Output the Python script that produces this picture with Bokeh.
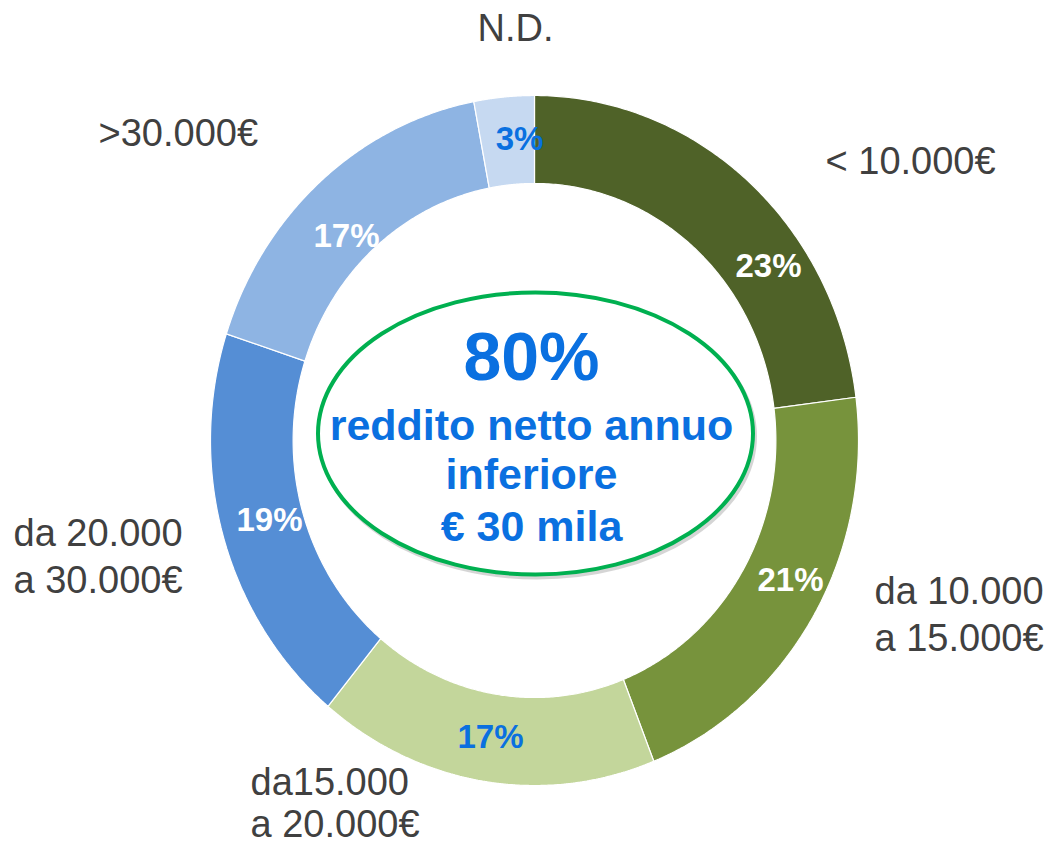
import numpy as np
from bokeh.plotting import figure
from bokeh.models import Range1d
from bokeh.embed import file_html
from bokeh.resources import INLINE
from bokeh.core.properties import value

# ---- data ----
categories = ["< 10.000€", "da 10.000\na 15.000€", "da15.000\na 20.000€",
              "da 20.000\na 30.000€", ">30.000€", "N.D."]
values = [23, 21, 17, 19, 17, 3]
pct_labels = [f"{v}%" for v in values]
slice_colors = ["#4F6228", "#77933C", "#C3D69B", "#558ED5", "#8EB4E3", "#C6D9F1"]
pct_colors = ["white", "white", "#0A70E0", "white", "white", "#0A70E0"]
center_lines = ["80%", "reddito netto annuo", "inferiore", "€ 30 mila"]

# ---- layout (pixel-like data coordinates) ----
W, H = 1047, 845
CX, CY = 534, 440
RX_OUT, RY_OUT = 324, 345
RING = 0.745
pct_pos = [(768, 265), (790, 579), (490, 736), (269, 519), (346, 235), (519, 138)]
cat_pos = [(825, 160), (874, 590), (250, 781), (13, 532), (98, 132), (477, 27)]
line_gaps = [47, 47, 42, 47, 47, 47]
center_sizes = ["68px", "43px", "43px", "43px"]
center_mid = [355, 424, 473, 525]
FONT = "Liberation Sans"

p = figure(width=W, height=H, x_range=Range1d(0, W), y_range=Range1d(H, 0),
           x_axis_type=None, y_axis_type=None, toolbar_location=None,
           output_backend="svg", min_border=0)
p.outline_line_color = None
p.background_fill_color = "white"
p.border_fill_color = "white"

total = float(sum(values))
cum = np.cumsum([0] + values) / total
xs, ys = [], []
for i in range(len(values)):
    th = 2 * np.pi * np.linspace(cum[i], cum[i + 1], 150)
    ox = CX + RX_OUT * np.sin(th)
    oy = CY - RY_OUT * np.cos(th)
    tr = th[::-1]
    ix = CX + RX_OUT * RING * np.sin(tr)
    iy = CY - RY_OUT * RING * np.cos(tr)
    xs.append(np.concatenate([ox, ix]).tolist())
    ys.append(np.concatenate([oy, iy]).tolist())
p.patches(xs, ys, fill_color=slice_colors, line_color="white", line_width=1.2)

# percentage labels
p.text(x=[q[0] for q in pct_pos], y=[q[1] for q in pct_pos], text=pct_labels,
       text_color=pct_colors, text_font=value(FONT), text_font_size="33px",
       text_font_style="bold", text_align="center", text_baseline="middle")

# category labels
lx, ly, lt = [], [], []
for cat, (x0, y0), gap in zip(categories, cat_pos, line_gaps):
    for k, line in enumerate(cat.split("\n")):
        lx.append(x0)
        ly.append(y0 + k * gap)
        lt.append(line)
p.text(x=lx, y=ly, text=lt, text_color="#404040", text_font=value(FONT),
       text_font_size="38px", text_align="left", text_baseline="middle")

# central ellipse
p.ellipse(x=[537], y=[436], width=[435], height=[282], fill_color=None,
          line_color="#888888", line_alpha=0.35, line_width=4)
p.ellipse(x=[535], y=[433], width=[435], height=[282], fill_color="white",
          line_color="#00B050", line_width=4)

for line, size, mid in zip(center_lines, center_sizes, center_mid):
    p.text(x=[531], y=[mid], text=[line], text_color="#0A70E0", text_font=value(FONT),
           text_font_size=size, text_font_style="bold", text_align="center",
           text_baseline="middle")

open("out.html", "w").write(file_html(p, INLINE))
